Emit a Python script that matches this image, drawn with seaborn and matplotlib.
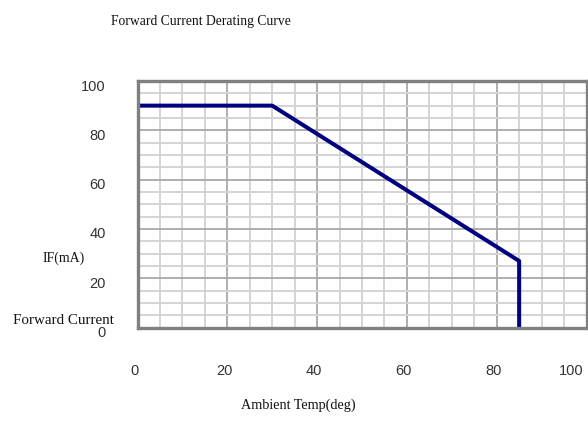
import matplotlib
matplotlib.use("Agg")
import matplotlib.pyplot as plt
from matplotlib import font_manager
from matplotlib.ticker import MultipleLocator
from matplotlib.transforms import ScaledTranslation
import seaborn as sns
import pandas as pd

# Derating curve: ambient temperature (deg) vs max forward current (mA)
temp = [0, 30, 85, 85]
current = [90, 90, 27, 0]
x_ticks = [0, 20, 40, 60, 80, 100]
y_ticks = [0, 20, 40, 60, 80, 100]

title_text = "Forward Current Derating Curve"
xlabel_text = "Ambient Temp(deg)"
ylabel_unit = "IF(mA)"
ylabel_name = "Forward Current"

sns.set_theme(style="white")


def pick_font(candidates):
    for name in candidates:
        try:
            font_manager.findfont(font_manager.FontProperties(family=name),
                                  fallback_to_default=False)
            return name
        except Exception:
            continue
    return "DejaVu Sans"


tick_font = pick_font(["Liberation Sans Narrow", "Liberation Sans", "DejaVu Sans"])
label_font = pick_font(["Liberation Serif", "DejaVu Serif"])
plt.rcParams["font.family"] = [tick_font, "DejaVu Sans"]

df = pd.DataFrame({"temp": temp, "current": current})

fig = plt.figure(figsize=(5.88, 4.26), dpi=100)
ax = fig.add_axes([137.5 / 588, 1 - 327.5 / 426, 449 / 588, 246.5 / 426])

# grid: light every 5 units, darker every 20
ax.set_xlim(0, 100)
ax.set_ylim(0, 100)
ax.xaxis.set_major_locator(MultipleLocator(20))
ax.yaxis.set_major_locator(MultipleLocator(20))
ax.xaxis.set_minor_locator(MultipleLocator(5))
ax.yaxis.set_minor_locator(MultipleLocator(5))
ax.grid(which="minor", color="#d4d4d4", linewidth=1.4, zorder=0)
ax.grid(which="major", color="#a8a8a8", linewidth=1.3, zorder=0)
ax.set_axisbelow(True)

sns.lineplot(data=df, x="temp", y="current", sort=False, estimator=None,
             color="#000080", linewidth=2.9, ax=ax, zorder=3)

for side in ax.spines.values():
    side.set_color("#808080")
    side.set_linewidth(2.4)
    side.set_zorder(4)

ax.set_xticks(x_ticks)
ax.set_yticks(y_ticks)
ax.set_xticklabels([str(v) for v in x_ticks])
ax.set_yticklabels([str(v) for v in y_ticks])
ax.tick_params(axis="both", which="both", length=0, labelsize=10.5,
               labelcolor="#333333")
ax.tick_params(axis="x", pad=26)
ax.tick_params(axis="y", pad=23)

shift_x = ScaledTranslation(-3 / 100, 0, fig.dpi_scale_trans)
shift_y = ScaledTranslation(0, -4 / 100, fig.dpi_scale_trans)
for lab in ax.get_xticklabels():
    lab.set_transform(lab.get_transform() + shift_x)
for lab in ax.get_yticklabels():
    lab.set_transform(lab.get_transform() + shift_y)
# keep the last x label inside the figure edge
ax.get_xticklabels()[-1].set_horizontalalignment("right")

ax.set_xlabel("")
ax.set_ylabel("")

fig.text(111 / 588, 1 - 22 / 426, title_text, family=label_font,
         fontsize=9.8, color="#111111", ha="left", va="center")
fig.text(298 / 588, 1 - 405 / 426, xlabel_text, family=label_font,
         fontsize=10.2, color="#111111", ha="center", va="center")
fig.text(85 / 588, 1 - 258 / 426, ylabel_unit, family=label_font,
         fontsize=10, color="#111111", ha="right", va="center")
fig.text(13 / 588, 1 - 320 / 426, ylabel_name, family=label_font,
         fontsize=10.8, color="#111111", ha="left", va="center")

fig.savefig("out.png", dpi=100)
